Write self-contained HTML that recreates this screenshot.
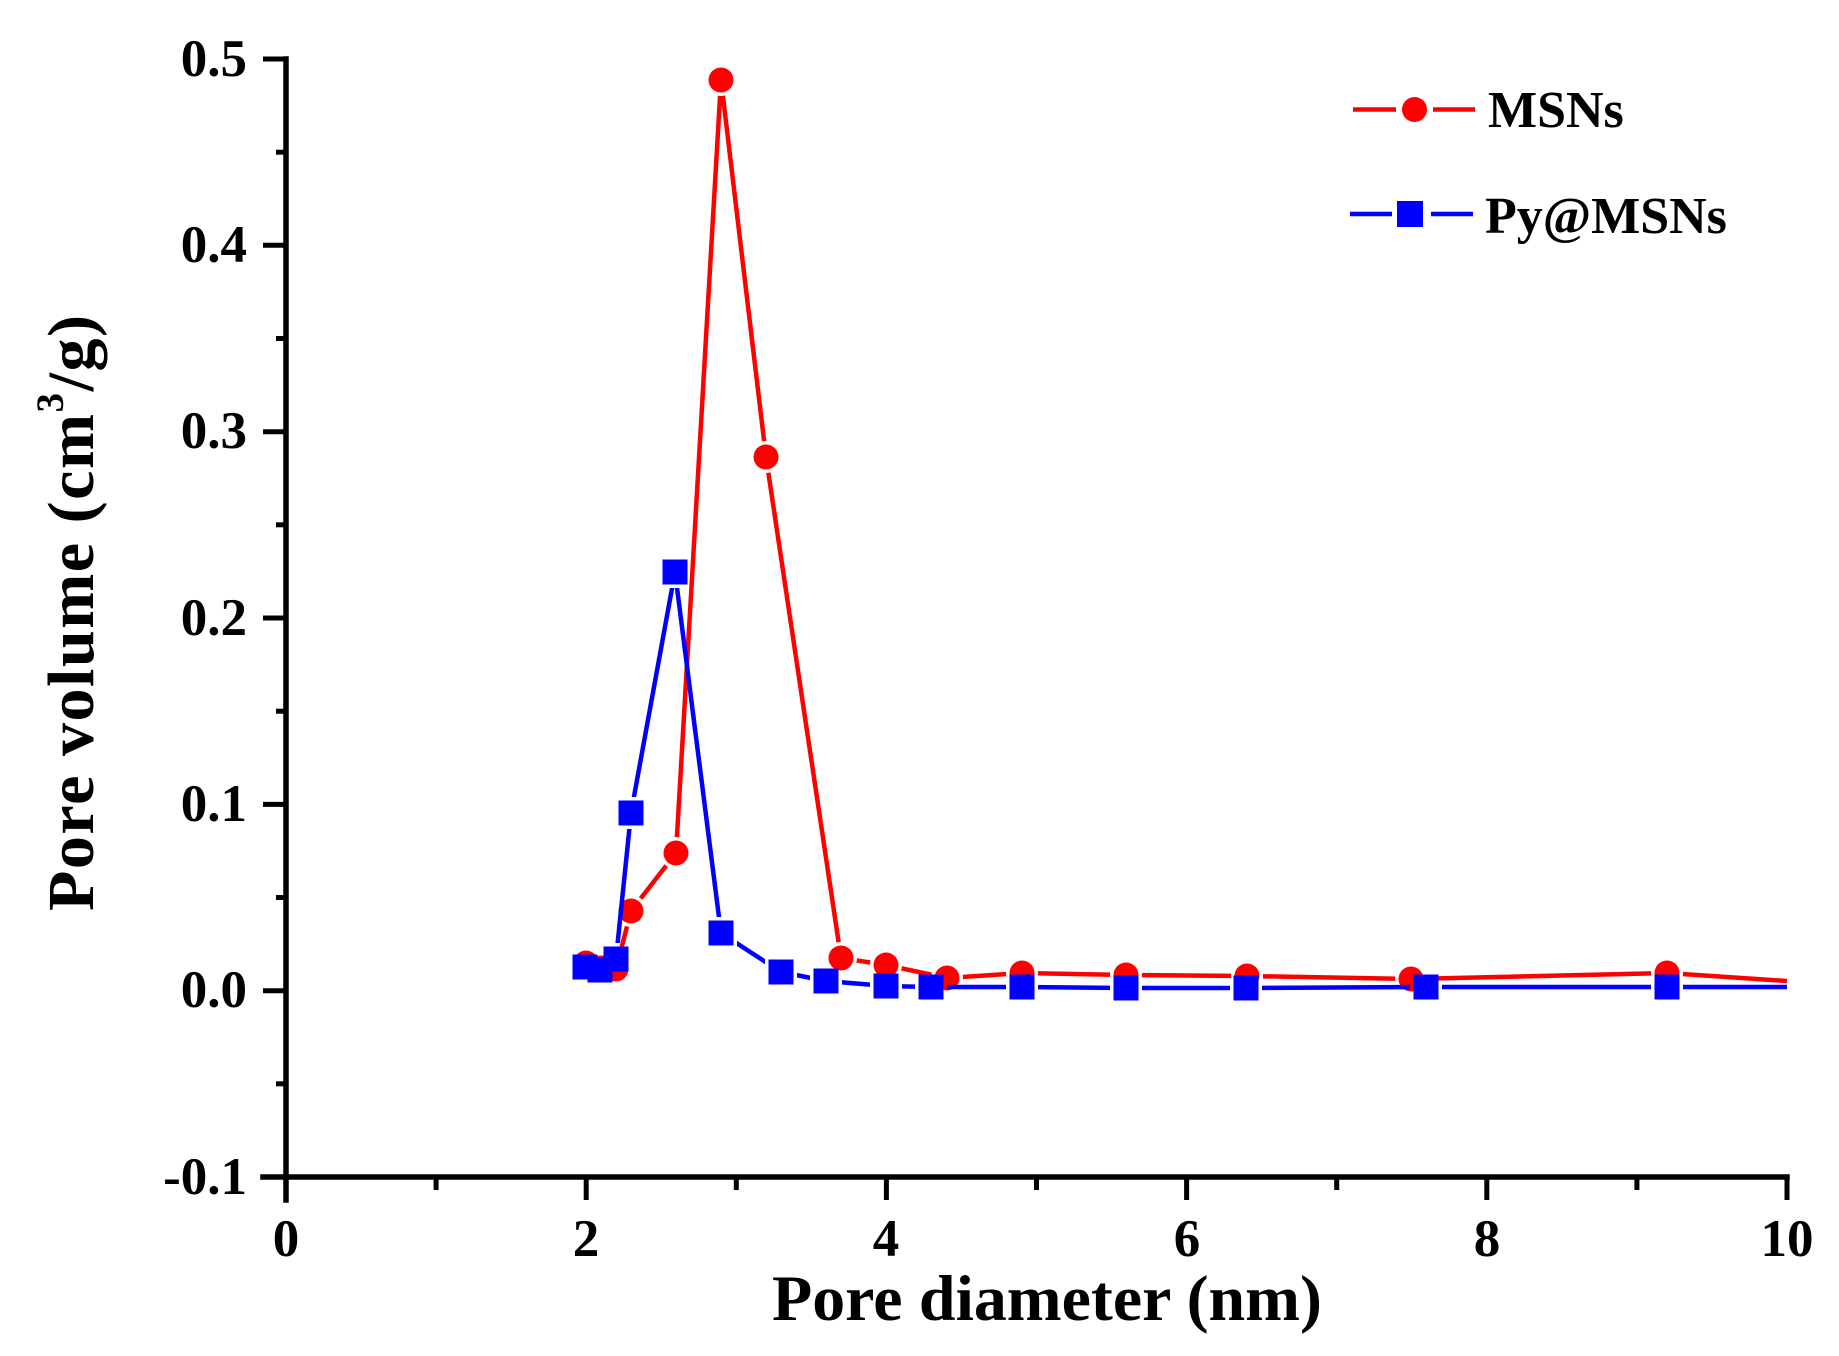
<!DOCTYPE html>
<html>
<head>
<meta charset="utf-8">
<style>
  html, body { margin: 0; padding: 0; background: #fff; }
  svg { display: block; }
  text { font-family: "Liberation Serif", "Times New Roman", serif; font-weight: bold; fill: #000; }
</style>
</head>
<body>
<svg width="1839" height="1356" viewBox="0 0 1839 1356" xmlns="http://www.w3.org/2000/svg">
  <rect width="1839" height="1356" fill="#fff"/>
  <defs>
    <mask id="mRed" maskUnits="userSpaceOnUse" x="0" y="0" width="1839" height="1356">
      <rect width="1839" height="1356" fill="#fff"/>
      <g fill="#000">
        <circle cx="586" cy="963" r="16"/>
        <circle cx="601" cy="968" r="16"/>
        <circle cx="616" cy="969" r="16"/>
        <circle cx="631" cy="911" r="16"/>
        <circle cx="676" cy="853" r="16"/>
        <circle cx="721" cy="80" r="16"/>
        <circle cx="766" cy="457" r="16"/>
        <circle cx="841" cy="958" r="16"/>
        <circle cx="886" cy="965" r="16"/>
        <circle cx="947" cy="978" r="16"/>
        <circle cx="1022" cy="973" r="16"/>
        <circle cx="1126" cy="975" r="16"/>
        <circle cx="1247" cy="976" r="16"/>
        <circle cx="1411" cy="979" r="16"/>
        <circle cx="1667" cy="973" r="16"/>
      </g>
    </mask>
    <mask id="mBlue" maskUnits="userSpaceOnUse" x="0" y="0" width="1839" height="1356">
      <rect width="1839" height="1356" fill="#fff"/>
      <g fill="#000">
        <rect x="569" y="951" width="32" height="32"/>
        <rect x="584" y="954" width="32" height="32"/>
        <rect x="600" y="943" width="32" height="32"/>
        <rect x="615" y="797" width="32" height="32"/>
        <rect x="659" y="556" width="32" height="32"/>
        <rect x="705" y="917" width="32" height="32"/>
        <rect x="765" y="956" width="32" height="32"/>
        <rect x="810" y="965" width="32" height="32"/>
        <rect x="870" y="970" width="32" height="32"/>
        <rect x="915" y="971" width="32" height="32"/>
        <rect x="1006" y="971" width="32" height="32"/>
        <rect x="1110" y="972" width="32" height="32"/>
        <rect x="1230" y="972" width="32" height="32"/>
        <rect x="1410" y="971" width="32" height="32"/>
        <rect x="1651" y="971" width="32" height="32"/>
      </g>
    </mask>
  </defs>

  <!-- Axes -->
  <g stroke="#000" stroke-width="5.5" fill="none" stroke-linecap="square">
    <line x1="286" y1="59" x2="286" y2="1200"/>
    <line x1="263" y1="1177" x2="1787" y2="1177"/>
  </g>
  <!-- Y ticks -->
  <g stroke="#000" stroke-width="5" fill="none">
    <line x1="263" y1="59" x2="286" y2="59"/>
    <line x1="263" y1="245.3" x2="286" y2="245.3"/>
    <line x1="263" y1="431.7" x2="286" y2="431.7"/>
    <line x1="263" y1="618" x2="286" y2="618"/>
    <line x1="263" y1="804.4" x2="286" y2="804.4"/>
    <line x1="263" y1="990.7" x2="286" y2="990.7"/>
    <line x1="276" y1="152.2" x2="286" y2="152.2"/>
    <line x1="276" y1="338.5" x2="286" y2="338.5"/>
    <line x1="276" y1="524.8" x2="286" y2="524.8"/>
    <line x1="276" y1="711.2" x2="286" y2="711.2"/>
    <line x1="276" y1="897.5" x2="286" y2="897.5"/>
    <line x1="276" y1="1083.8" x2="286" y2="1083.8"/>
  </g>
  <!-- X ticks -->
  <g stroke="#000" stroke-width="5" fill="none">
    <line x1="586.2" y1="1177" x2="586.2" y2="1200"/>
    <line x1="886.4" y1="1177" x2="886.4" y2="1200"/>
    <line x1="1186.6" y1="1177" x2="1186.6" y2="1200"/>
    <line x1="1486.8" y1="1177" x2="1486.8" y2="1200"/>
    <line x1="1787" y1="1177" x2="1787" y2="1200"/>
    <line x1="436.1" y1="1177" x2="436.1" y2="1190"/>
    <line x1="736.3" y1="1177" x2="736.3" y2="1190"/>
    <line x1="1036.5" y1="1177" x2="1036.5" y2="1190"/>
    <line x1="1336.7" y1="1177" x2="1336.7" y2="1190"/>
    <line x1="1636.9" y1="1177" x2="1636.9" y2="1190"/>
  </g>

  <!-- Y tick labels -->
  <g font-size="53" text-anchor="end">
    <text x="247" y="76">0.5</text>
    <text x="247" y="262">0.4</text>
    <text x="247" y="448">0.3</text>
    <text x="247" y="635">0.2</text>
    <text x="247" y="821">0.1</text>
    <text x="247" y="1007">0.0</text>
    <text x="247" y="1194">-0.1</text>
  </g>
  <!-- X tick labels -->
  <g font-size="53" text-anchor="middle">
    <text x="286" y="1256">0</text>
    <text x="586" y="1256">2</text>
    <text x="886" y="1256">4</text>
    <text x="1187" y="1256">6</text>
    <text x="1487" y="1256">8</text>
    <text x="1787" y="1256">10</text>
  </g>

  <!-- Axis titles -->
  <text x="1047" y="1320" font-size="65" text-anchor="middle" textLength="550" lengthAdjust="spacingAndGlyphs">Pore diameter (nm)</text>
  <text transform="translate(93,613) rotate(-90)" font-size="66" text-anchor="middle" textLength="596" lengthAdjust="spacing">Pore volume (cm<tspan dy="-30" font-size="39">3</tspan><tspan dy="30">/g)</tspan></text>

  <!-- Red series (MSNs) -->
  <polyline mask="url(#mRed)" fill="none" stroke="#ff0000" stroke-width="4.5" stroke-linejoin="round"
    points="586,963 601,968 616,969 631,911 676,853 721,80 766,457 841,958 886,965 947,978 1022,973 1126,975 1247,976 1411,979 1667,973 1787,981"/>
  <g fill="#ff0000">
    <circle cx="586" cy="963" r="12.5"/>
    <circle cx="601" cy="968" r="12.5"/>
    <circle cx="616" cy="969" r="12.5"/>
    <circle cx="631" cy="911" r="12.5"/>
    <circle cx="676" cy="853" r="12.5"/>
    <circle cx="721" cy="80" r="12.5"/>
    <circle cx="766" cy="457" r="12.5"/>
    <circle cx="841" cy="958" r="12.5"/>
    <circle cx="886" cy="965" r="12.5"/>
    <circle cx="947" cy="978" r="12.5"/>
    <circle cx="1022" cy="973" r="12.5"/>
    <circle cx="1126" cy="975" r="12.5"/>
    <circle cx="1247" cy="976" r="12.5"/>
    <circle cx="1411" cy="979" r="12.5"/>
    <circle cx="1667" cy="973" r="12.5"/>
  </g>

  <!-- Blue series (Py@MSNs) -->
  <polyline mask="url(#mBlue)" fill="none" stroke="#0000ff" stroke-width="4.5" stroke-linejoin="round"
    points="585,967 600,970 616,959 631,813 675,572 721,933 781,972 826,981 886,986 931,987 1022,987 1126,988 1246,988 1426,987 1667,987 1787,987"/>
  <g fill="#0000ff">
    <rect x="572.5" y="954.5" width="25" height="25"/>
    <rect x="587.5" y="957.5" width="25" height="25"/>
    <rect x="603.5" y="946.5" width="25" height="25"/>
    <rect x="618.5" y="800.5" width="25" height="25"/>
    <rect x="662.5" y="559.5" width="25" height="25"/>
    <rect x="708.5" y="920.5" width="25" height="25"/>
    <rect x="768.5" y="959.5" width="25" height="25"/>
    <rect x="813.5" y="968.5" width="25" height="25"/>
    <rect x="873.5" y="973.5" width="25" height="25"/>
    <rect x="918.5" y="974.5" width="25" height="25"/>
    <rect x="1009.5" y="974.5" width="25" height="25"/>
    <rect x="1113.5" y="975.5" width="25" height="25"/>
    <rect x="1233.5" y="975.5" width="25" height="25"/>
    <rect x="1413.5" y="974.5" width="25" height="25"/>
    <rect x="1654.5" y="974.5" width="25" height="25"/>
  </g>

  <!-- Legend -->
  <g stroke-width="4.5" fill="none">
    <line x1="1353" y1="109.5" x2="1396" y2="109.5" stroke="#ff0000"/>
    <line x1="1433" y1="109.5" x2="1475" y2="109.5" stroke="#ff0000"/>
    <line x1="1350" y1="214" x2="1392" y2="214" stroke="#0000ff"/>
    <line x1="1431" y1="214" x2="1473" y2="214" stroke="#0000ff"/>
  </g>
  <circle cx="1414.5" cy="109.5" r="12.5" fill="#ff0000"/>
  <rect x="1397" y="201" width="26" height="26" fill="#0000ff"/>
  <text x="1488" y="127" font-size="52">MSNs</text>
  <text x="1485" y="233" font-size="52">Py@MSNs</text>
</svg>
</body>
</html>
